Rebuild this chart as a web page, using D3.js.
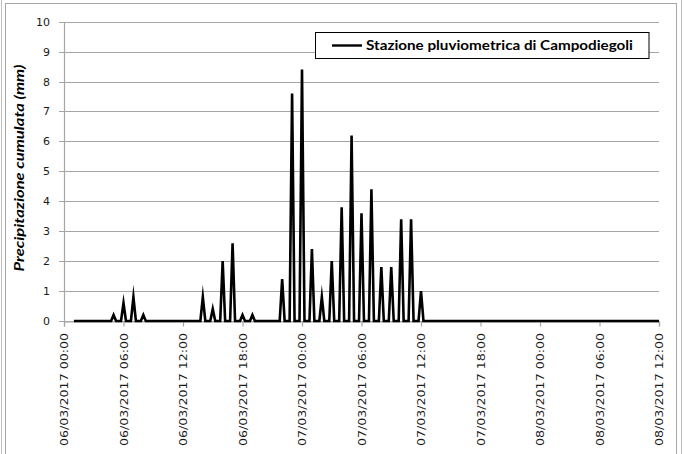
<!DOCTYPE html>
<html>
<head>
<meta charset="utf-8">
<script src="https://cdn.jsdelivr.net/npm/d3@7/dist/d3.min.js"></script>
<style>
  html, body { margin: 0; padding: 0; background: #fff; }
  svg { display: block; }
</style>
</head>
<body>
<svg id="chart" width="684" height="454"></svg>
<script>
// Hourly cumulative rainfall (mm), one value per hour from 06/03/2017 01:00 to 08/03/2017 12:00
const seriesName = "Stazione pluviometrica di Campodiegoli";
const startHour = "2017-03-06T01:00:00Z";
const hourlyRain = [
  0, 0, 0, 0, 0.2, 0.6, 0.8, 0.2, 0, 0, 0, 0,          // 01:00 - 12:00 (06/03)
  0, 0.8, 0.4, 2.0, 2.6, 0.2, 0.2, 0, 0, 1.4, 7.6, 8.4, // 13:00 - 00:00
  2.4, 0.8, 2.0, 3.8, 6.2, 3.6, 4.4, 1.8, 1.8, 3.4, 3.4, 1.0, // 01:00 - 12:00 (07/03)
  0, 0, 0, 0, 0, 0, 0, 0, 0, 0, 0, 0,                  // 13:00 - 00:00
  0, 0, 0, 0, 0, 0, 0, 0, 0, 0, 0, 0                   // 01:00 - 12:00 (08/03)
];
// the gauge logs every 15 minutes; only the on-the-hour record carries the cumulated value
const readingStepMin = 15;
const xDomain = ["2017-03-06T00:00:00Z", "2017-03-08T12:00:00Z"];
const xTickHours = 6;
const yTicks = [0, 1, 2, 3, 4, 5, 6, 7, 8, 9, 10];
const yTitle = "Precipitazione cumulata (mm)";

const svg = d3.select("#chart");
const W = 684, H = 454;

// outer frame
svg.append("rect").attr("x", 5.5).attr("y", 3.5).attr("width", 671).attr("height", 460)
  .attr("fill", "#fff").attr("stroke", "#a6a6a6").attr("stroke-width", 1);
svg.append("line").attr("x1", 1.5).attr("x2", 1.5).attr("y1", 0).attr("y2", H)
  .attr("stroke", "#bfbfbf");
svg.append("line").attr("x1", 681.5).attr("x2", 681.5).attr("y1", 0).attr("y2", H)
  .attr("stroke", "#bfbfbf");

const x = d3.scaleUtc()
  .domain(xDomain.map(d => new Date(d)))
  .range([64, 659]);
const y = d3.scaleLinear().domain([0, 10]).range([321, 21.7]);

// build the 15-minute record series
const t0 = new Date(startHour).getTime();
const series = [];
hourlyRain.forEach((v, i) => {
  const th = t0 + i * 3600e3;
  series.push({ t: new Date(th), v: v });
  if (i < hourlyRain.length - 1) {
    for (let q = 1; q < 60 / readingStepMin; q++) {
      series.push({ t: new Date(th + q * readingStepMin * 60e3), v: 0 });
    }
  }
});

// horizontal gridlines + y ticks
const gridG = svg.append("g");
gridG.selectAll("line").data(yTicks).join("line")
  .attr("x1", 59).attr("x2", 659)
  .attr("y1", d => Math.round(y(d)) + 0.5).attr("y2", d => Math.round(y(d)) + 0.5)
  .attr("stroke", "#a6a6a6").attr("stroke-width", 1.2);

// y axis line
svg.append("line").attr("x1", 64.5).attr("x2", 64.5)
  .attr("y1", Math.round(y(10)) + 0.5).attr("y2", Math.round(y(0)) + 0.5)
  .attr("stroke", "#a6a6a6").attr("stroke-width", 1.2);

// y tick labels
svg.append("g").selectAll("text").data(yTicks).join("text")
  .attr("x", 50).attr("y", d => y(d)).attr("dy", "0.36em")
  .attr("text-anchor", "end")
  .attr("font-family", "DejaVu Sans, sans-serif").attr("font-size", 11)
  .attr("fill", "#1a1a1a")
  .text(d => d);

// x axis via d3.axisBottom
const xTicks = d3.utcHour.every(xTickHours).range(x.domain()[0], new Date(x.domain()[1].getTime() + 1));
const fmt = d3.utcFormat("%d/%m/%Y %H:%M");
const xAxis = d3.axisBottom(x).tickValues(xTicks).tickSize(5).tickFormat(fmt);
const xg = svg.append("g").attr("transform", "translate(0," + (Math.round(y(0)) + 0.5) + ")").call(xAxis);
xg.select(".domain").attr("stroke", "#a6a6a6").attr("stroke-width", 1.2);
xg.selectAll(".tick line").attr("stroke", "#a6a6a6").attr("stroke-width", 1.2);
xg.selectAll(".tick text")
  .attr("font-family", "DejaVu Sans, sans-serif").attr("font-size", 10.5)
  .attr("fill", "#1a1a1a")
  .attr("transform", "rotate(-90)")
  .attr("text-anchor", "end")
  .attr("x", -11.5).attr("y", 0).attr("dy", "0.36em")
  .attr("textLength", 113).attr("lengthAdjust", "spacingAndGlyphs");

// rainfall line
const line = d3.line().x(d => x(d.t)).y(d => y(d.v));
svg.append("path").datum(series)
  .attr("d", line)
  .attr("fill", "none").attr("stroke", "#000").attr("stroke-width", 2.6)
  .attr("stroke-linejoin", "miter").attr("stroke-miterlimit", 10);

// y axis title
svg.append("text")
  .attr("transform", "translate(23.5,168) rotate(-90)")
  .attr("text-anchor", "middle")
  .attr("font-family", "Lato, sans-serif").attr("font-weight", "bold").attr("font-style", "italic")
  .attr("font-size", 13.5).attr("fill", "#000")
  .attr("textLength", 207).attr("lengthAdjust", "spacingAndGlyphs")
  .text(yTitle);

// legend
const lg = svg.append("g");
lg.append("rect").attr("x", 315.5).attr("y", 32.5).attr("width", 333.5).attr("height", 26)
  .attr("fill", "#fff").attr("stroke", "#000").attr("stroke-width", 1);
lg.append("line").attr("x1", 332).attr("x2", 362).attr("y1", 45.5).attr("y2", 45.5)
  .attr("stroke", "#000").attr("stroke-width", 2.4);
lg.append("text").attr("x", 366).attr("y", 50)
  .attr("font-family", "Lato, sans-serif").attr("font-weight", "bold")
  .attr("font-size", 13.5).attr("fill", "#000")
  .attr("textLength", 267).attr("lengthAdjust", "spacingAndGlyphs")
  .text(seriesName);
</script>
</body>
</html>
